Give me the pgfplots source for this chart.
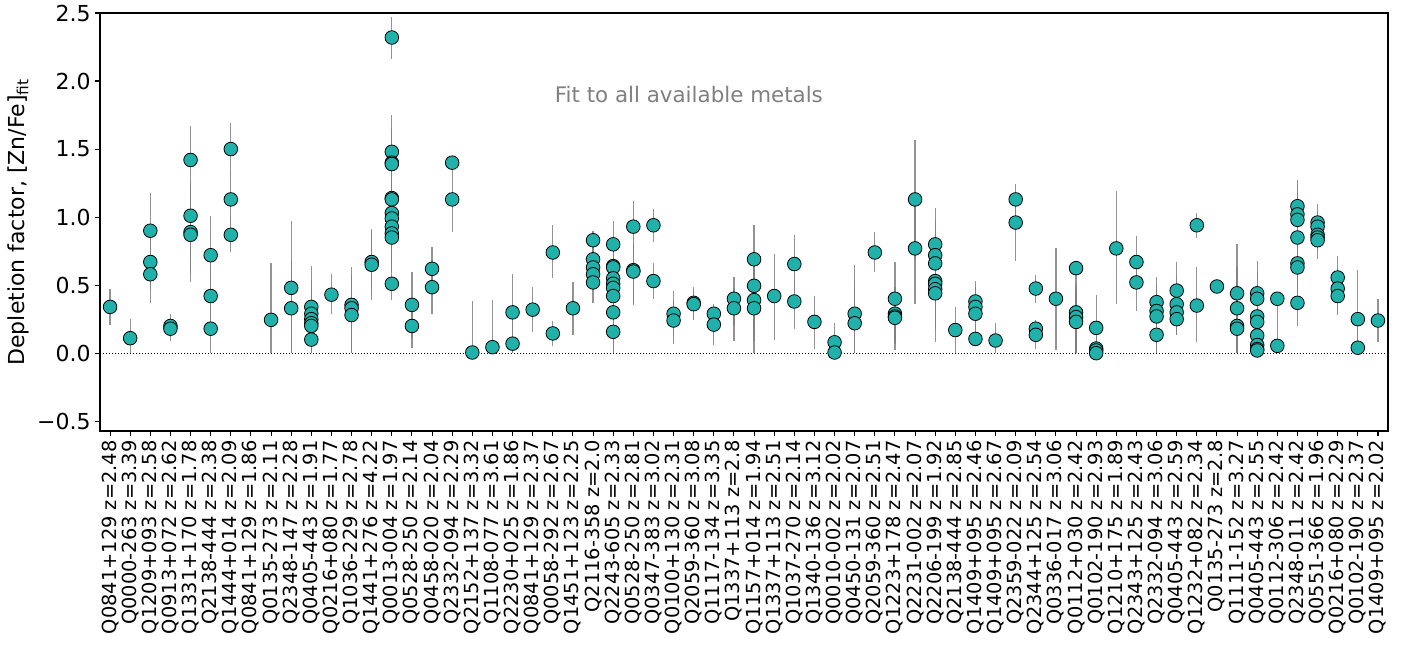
\documentclass[border=0pt]{standalone}
\usepackage{fontspec}
\setmainfont{DejaVu Sans}
\usepackage{pgfplots}
\usepackage{pgfplotstable}
\pgfplotsset{compat=1.18}
\definecolor{teal1}{RGB}{32,178,170}
\definecolor{ebar}{RGB}{128,128,128}
\pgfplotstableread{
x y ep em
0 0.34 0.13 0.13
1 0.11 0.14 0.11
2 0.90 0.28 0.20
2 0.67 0.20 0.20
2 0.58 0.20 0.21
3 0.20 0.09 0.09
3 0.18 0.08 0.09
4 1.42 0.25 0.25
4 1.01 0.25 0.30
4 0.89 0.30 0.30
4 0.87 0.30 0.35
5 0.72 0.29 0.29
5 0.42 0.30 0.30
5 0.18 0.30 0.18
6 1.50 0.19 0.19
6 1.13 0.20 0.20
6 0.87 0.13 0.13
8 0.245 0.415 0.245
9 0.48 0.49 0.48
9 0.33 0.35 0.33
10 0.34 0.30 0.34
10 0.29 0.25 0.29
10 0.25 0.20 0.25
10 0.22 0.20 0.22
10 0.20 0.20 0.20
10 0.10 0.20 0.10
11 0.43 0.15 0.14
12 0.355 0.275 0.355
12 0.33 0.25 0.33
12 0.28 0.25 0.28
13 0.67 0.24 0.24
13 0.65 0.24 0.26
14 2.32 0.15 0.16
14 1.48 0.27 0.27
14 1.40 0.25 0.25
14 1.39 0.25 0.25
14 1.14 0.25 0.25
14 1.13 0.25 0.25
14 1.03 0.25 0.25
14 0.99 0.25 0.25
14 0.93 0.25 0.25
14 0.88 0.25 0.25
14 0.85 0.25 0.25
14 0.51 0.13 0.12
15 0.355 0.24 0.24
15 0.20 0.16 0.16
16 0.62 0.16 0.16
16 0.485 0.20 0.20
17 1.40 0.05 0.05
17 1.13 0.25 0.24
18 0.005 0.38 0.005
19 0.044 0.35 0.044
20 0.30 0.28 0.30
20 0.07 0.20 0.07
21 0.32 0.165 0.165
22 0.74 0.20 0.19
22 0.145 0.095 0.095
23 0.33 0.19 0.195
24 0.83 0.07 0.10
24 0.69 0.10 0.10
24 0.63 0.10 0.10
24 0.58 0.10 0.10
24 0.52 0.10 0.15
25 0.80 0.17 0.20
25 0.64 0.15 0.20
25 0.63 0.15 0.20
25 0.55 0.15 0.20
25 0.51 0.15 0.20
25 0.48 0.15 0.20
25 0.42 0.15 0.20
25 0.30 0.15 0.30
25 0.157 0.15 0.157
26 0.93 0.185 0.20
26 0.61 0.20 0.25
26 0.60 0.20 0.245
27 0.94 0.12 0.12
27 0.53 0.13 0.13
28 0.29 0.17 0.15
28 0.24 0.15 0.17
29 0.37 0.115 0.115
29 0.36 0.10 0.115
30 0.29 0.07 0.10
30 0.21 0.10 0.15
31 0.40 0.16 0.20
31 0.33 0.15 0.24
32 0.69 0.25 0.25
32 0.495 0.25 0.30
32 0.39 0.20 0.30
32 0.33 0.20 0.33
33 0.42 0.31 0.32
34 0.655 0.215 0.20
34 0.38 0.20 0.20
35 0.23 0.19 0.20
36 0.08 0.14 0.08
36 0.005 0.10 0.005
37 0.29 0.36 0.29
37 0.22 0.30 0.22
38 0.74 0.15 0.14
39 0.40 0.27 0.20
39 0.29 0.20 0.20
39 0.27 0.20 0.20
39 0.26 0.20 0.235
40 1.13 0.44 0.44
40 0.77 0.41 0.41
41 0.80 0.27 0.30
41 0.72 0.25 0.30
41 0.66 0.25 0.30
41 0.53 0.25 0.30
41 0.51 0.25 0.30
41 0.47 0.25 0.30
41 0.44 0.30 0.36
42 0.17 0.17 0.17
43 0.38 0.15 0.15
43 0.34 0.15 0.15
43 0.29 0.15 0.15
43 0.105 0.10 0.055
44 0.093 0.13 0.093
45 1.13 0.115 0.12
45 0.96 0.12 0.28
46 0.475 0.10 0.105
46 0.18 0.065 0.10
46 0.135 0.10 0.105
47 0.40 0.37 0.375
48 0.625 0.05 0.30
48 0.30 0.20 0.30
48 0.265 0.20 0.265
48 0.23 0.20 0.23
49 0.186 0.244 0.186
49 0.034 0.10 0.034
49 0.02 0.10 0.02
49 0.0 0.10 0.0
50 0.77 0.42 0.41
51 0.67 0.19 0.20
51 0.52 0.20 0.21
52 0.375 0.185 0.20
52 0.31 0.20 0.31
52 0.27 0.20 0.27
52 0.135 0.15 0.135
53 0.46 0.21 0.20
53 0.36 0.20 0.20
53 0.30 0.20 0.17
53 0.25 0.20 0.12
54 0.94 0.09 0.09
54 0.35 0.28 0.27
55 0.49 0.03 0.03
56 0.44 0.36 0.30
56 0.33 0.30 0.33
56 0.20 0.20 0.20
56 0.18 0.20 0.18
57 0.44 0.24 0.30
57 0.40 0.20 0.30
57 0.27 0.20 0.27
57 0.23 0.20 0.23
57 0.13 0.20 0.13
57 0.06 0.20 0.06
57 0.03 0.20 0.03
57 0.02 0.20 0.02
58 0.40 0.05 0.20
58 0.054 0.15 0.054
59 1.08 0.19 0.20
59 1.02 0.20 0.20
59 0.98 0.20 0.20
59 0.85 0.20 0.20
59 0.66 0.20 0.20
59 0.63 0.20 0.20
59 0.37 0.20 0.17
60 0.96 0.135 0.10
60 0.93 0.10 0.10
60 0.87 0.10 0.10
60 0.85 0.10 0.10
60 0.83 0.10 0.14
61 0.556 0.16 0.15
61 0.475 0.15 0.15
61 0.42 0.15 0.14
62 0.25 0.36 0.25
62 0.04 0.15 0.04
63 0.24 0.16 0.16
}\data
\begin{document}
\begin{tikzpicture}
\begin{axis}[
  at={(0,0)}, anchor=south west,
  scale only axis,
  width=644pt, height=209pt,
  xmin=-0.5, xmax=63.5,
  ymin=-0.572, ymax=2.5,
  axis line style={line width=0.55pt},
  tick align=outside,
  tick pos=left,
  major tick length=2.5pt,
  tick style={black, line width=0.55pt},
  xtick={0,...,63},
  xticklabels={Q0841+129 z=2.48, Q0000-263 z=3.39, Q1209+093 z=2.58, Q0913+072 z=2.62, Q1331+170 z=1.78, Q2138-444 z=2.38, Q1444+014 z=2.09, Q0841+129 z=1.86, Q0135-273 z=2.11, Q2348-147 z=2.28, Q0405-443 z=1.91, Q0216+080 z=1.77, Q1036-229 z=2.78, Q1441+276 z=4.22, Q0013-004 z=1.97, Q0528-250 z=2.14, Q0458-020 z=2.04, Q2332-094 z=2.29, Q2152+137 z=3.32, Q1108-077 z=3.61, Q2230+025 z=1.86, Q0841+129 z=2.37, Q0058-292 z=2.67, Q1451+123 z=2.25, Q2116-358 z=2.0, Q2243-605 z=2.33, Q0528-250 z=2.81, Q0347-383 z=3.02, Q0100+130 z=2.31, Q2059-360 z=3.08, Q1117-134 z=3.35, Q1337+113 z=2.8, Q1157+014 z=1.94, Q1337+113 z=2.51, Q1037-270 z=2.14, Q1340-136 z=3.12, Q0010-002 z=2.02, Q0450-131 z=2.07, Q2059-360 z=2.51, Q1223+178 z=2.47, Q2231-002 z=2.07, Q2206-199 z=1.92, Q2138-444 z=2.85, Q1409+095 z=2.46, Q1409+095 z=2.67, Q2359-022 z=2.09, Q2344+125 z=2.54, Q0336-017 z=3.06, Q0112+030 z=2.42, Q0102-190 z=2.93, Q1210+175 z=1.89, Q2343+125 z=2.43, Q2332-094 z=3.06, Q0405-443 z=2.59, Q1232+082 z=2.34, Q0135-273 z=2.8, Q1111-152 z=3.27, Q0405-443 z=2.55, Q0112-306 z=2.42, Q2348-011 z=2.42, Q0551-366 z=1.96, Q0216+080 z=2.29, Q0102-190 z=2.37, Q1409+095 z=2.02},
  xticklabel style={rotate=90, anchor=east, font=\fontsize{9.7}{11}\selectfont, inner sep=2pt},
  ytick={-0.5,0,0.5,1,1.5,2,2.5},
  yticklabels={−0.5,0.0,0.5,1.0,1.5,2.0,2.5},
  yticklabel style={font=\fontsize{11}{13}\selectfont, inner sep=2pt},
  ylabel={Depletion factor, [Zn/Fe]\textsubscript{fit}},
  ylabel style={font=\fontsize{11}{13}\selectfont, inner sep=2pt},
  clip=true,
]
\addplot[black, densely dotted, line width=0.5pt, forget plot] coordinates {(-0.5,0) (63.5,0)};
\addplot[only marks, mark=none, forget plot,
  error bars/.cd, y dir=both, y explicit, error mark=none,
  error bar style={draw=ebar, line width=0.65pt, draw opacity=0.85}]
  table[x=x, y=y, y error plus=ep, y error minus=em] {\data};
\addplot[only marks, mark=*, mark size=3.4pt,
  mark options={fill=teal1, draw=black, line width=0.4pt}]
  table[x=x, y=y] {\data};
\node[text=ebar, font=\fontsize{10.7}{12}\selectfont] at (axis cs:28.76,1.90) {Fit to all available metals};
\end{axis}
\pgfresetboundingbox
\path (-50pt,-107pt) rectangle (655.5pt,215.5pt);
\end{tikzpicture}
\end{document}
